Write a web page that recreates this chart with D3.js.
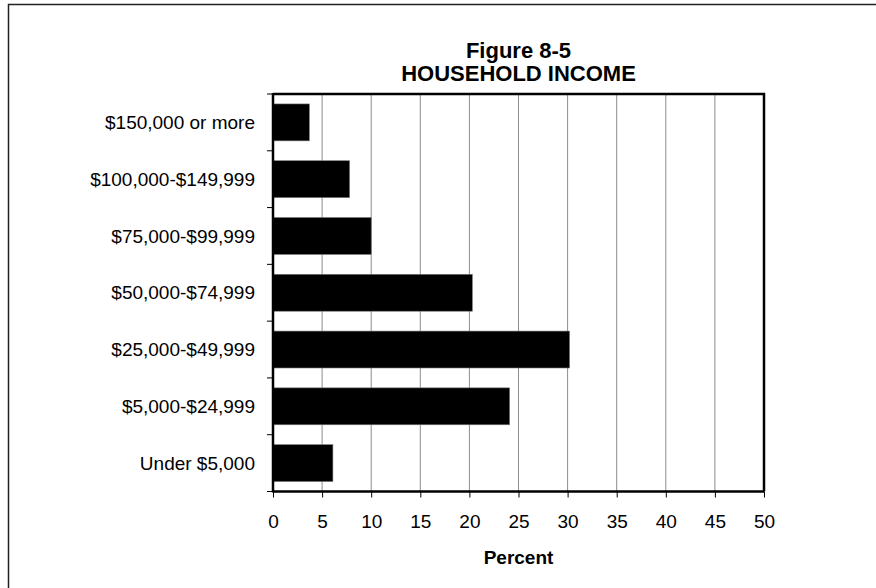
<!DOCTYPE html>
<html>
<head>
<meta charset="utf-8">
<script src="https://cdn.jsdelivr.net/npm/d3@7"></script>
<style>
  body { margin: 0; background: #fff; }
  svg { display: block; font-family: "Liberation Sans", Arial, sans-serif; }
</style>
</head>
<body>
<svg id="chart" width="876" height="588"></svg>
<script>
// Household income distribution, percent of households
const categories = [
  "$150,000 or more",
  "$100,000-$149,999",
  "$75,000-$99,999",
  "$50,000-$74,999",
  "$25,000-$49,999",
  "$5,000-$24,999",
  "Under $5,000"
];
const percents = [3.7, 7.8, 10.0, 20.3, 30.2, 24.1, 6.1];
const xTicks = [0, 5, 10, 15, 20, 25, 30, 35, 40, 45, 50];
const titleLines = ["Figure 8-5", "HOUSEHOLD INCOME"];
const xTitle = "Percent";

const svg = d3.select("#chart");
const plot = { left: 273, right: 764, top: 94, bottom: 491.5 };
const labelSize = 19;

// outer frame (runs off the right and bottom edges)
svg.append("rect")
  .attr("x", 8.5).attr("y", 4.5)
  .attr("width", 1000).attr("height", 1000)
  .attr("fill", "none").attr("stroke", "#222").attr("stroke-width", 1.5);

const x = d3.scaleLinear().domain([0, 50]).range([plot.left, plot.right]);
const y = d3.scaleBand().domain(categories).range([plot.top, plot.bottom])
  .paddingInner(0.35).paddingOuter(0.175);

// vertical gridlines
svg.append("g").selectAll("line").data(xTicks.filter(t => t > 0 && t < 50)).join("line")
  .attr("x1", d => x(d)).attr("x2", d => x(d))
  .attr("y1", plot.top).attr("y2", plot.bottom)
  .attr("stroke", "#8c8c8c").attr("stroke-width", 1);

// bars
svg.append("g").selectAll("rect").data(categories).join("rect")
  .attr("x", x(0))
  .attr("y", d => y(d))
  .attr("width", (d, i) => x(percents[i]) - x(0))
  .attr("height", y.bandwidth())
  .attr("fill", "#000")
  .attr("stroke", "#777").attr("stroke-width", 0.6);

// top and right frame of the plot area
svg.append("path")
  .attr("d", `M${plot.left},${plot.top}H${plot.right}V${plot.bottom}`)
  .attr("fill", "none").attr("stroke", "#000").attr("stroke-width", 2.5);

// x axis
const xAxis = svg.append("g")
  .attr("transform", `translate(0,${plot.bottom})`)
  .call(d3.axisBottom(x).tickValues(xTicks).tickSize(6).tickPadding(0).tickFormat(d3.format("d")));
xAxis.select(".domain").attr("stroke-width", 2.5).attr("d", `M${plot.left},0H${plot.right}`);
xAxis.selectAll(".tick line").attr("stroke-width", 1);
xAxis.selectAll("text")
  .attr("y", 528 - plot.bottom).attr("dy", null)
  .attr("font-size", labelSize).attr("fill", "#000")
  .attr("font-family", "Liberation Sans, Arial, sans-serif");

// y axis: ticks at band boundaries
const bounds = d3.range(categories.length + 1).map(i => plot.top + i * (plot.bottom - plot.top) / categories.length);
svg.append("g").selectAll("line").data(bounds).join("line")
  .attr("x1", plot.left - 6).attr("x2", plot.left)
  .attr("y1", d => d).attr("y2", d => d)
  .attr("stroke", "#000").attr("stroke-width", 1);
svg.append("line")
  .attr("x1", plot.left).attr("x2", plot.left)
  .attr("y1", plot.top - 1).attr("y2", plot.bottom + 1)
  .attr("stroke", "#000").attr("stroke-width", 2.5);

// category labels
svg.append("g").selectAll("text").data(categories).join("text")
  .attr("x", 255)
  .attr("y", d => y(d) + y.bandwidth() / 2)
  .attr("dy", "0.35em")
  .attr("text-anchor", "end")
  .attr("font-size", labelSize)
  .text(d => d);

// titles
const cx = (plot.left + plot.right) / 2;
svg.append("g").selectAll("text").data(titleLines).join("text")
  .attr("x", cx)
  .attr("y", (d, i) => 58 + i * 23)
  .attr("text-anchor", "middle")
  .attr("font-size", 22).attr("font-weight", "bold")
  .text(d => d);

svg.append("text")
  .attr("x", cx).attr("y", 564)
  .attr("text-anchor", "middle")
  .attr("font-size", labelSize).attr("font-weight", "bold")
  .text(xTitle);
</script>
</body>
</html>
